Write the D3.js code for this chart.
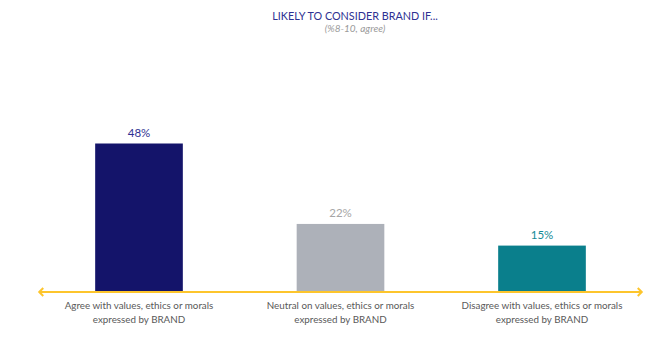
<!DOCTYPE html>
<html>
<head>
<meta charset="utf-8">
<script src="https://cdn.jsdelivr.net/npm/d3@7"></script>
<style>
  html, body { margin: 0; padding: 0; background: #ffffff; }
  svg { display: block; }
</style>
</head>
<body>
<svg id="chart" width="672" height="338"></svg>
<script>
// Chart data
const categories = [
  ["Agree with values, ethics or morals", "expressed by BRAND"],
  ["Neutral on values, ethics or morals", "expressed by BRAND"],
  ["Disagree with values, ethics or morals", "expressed by BRAND"]
];
const values = [48, 22, 15];
const barColors = ["#14146a", "#adb1b9", "#0a7f8c"];
const labelColors = ["#2e3192", "#a6a6a6", "#138a96"];
const titleText = "LIKELY TO CONSIDER BRAND IF...";
const subtitleText = "(%8-10, agree)";

const svg = d3.select("#chart");
const font = "Lato, 'Open Sans', sans-serif";

const baseY = 292;
const x = d3.scaleBand()
  .domain(d3.range(values.length))
  .range([38.25, 642.75])
  .paddingInner(0.565)
  .paddingOuter(0.2825);
const y = d3.scaleLinear().domain([0, 48]).range([baseY, 143.5]);

// Title and subtitle
svg.append("text")
  .attr("x", 355).attr("y", 19.5)
  .attr("text-anchor", "middle")
  .attr("font-family", font).attr("font-size", 10.8)
  .attr("fill", "#2e3192")
  .text(titleText);
svg.append("text")
  .attr("x", 355).attr("y", 31.5)
  .attr("text-anchor", "middle")
  .attr("font-family", font).attr("font-size", 10)
  .attr("font-style", "italic")
  .attr("fill", "#9a9a9a")
  .text(subtitleText);

// Bars
svg.selectAll("rect.bar").data(values).enter().append("rect")
  .attr("class", "bar")
  .attr("x", (d, i) => x(i))
  .attr("width", x.bandwidth())
  .attr("y", d => y(d))
  .attr("height", d => baseY - y(d))
  .attr("fill", (d, i) => barColors[i]);

// Value labels
svg.selectAll("text.val").data(values).enter().append("text")
  .attr("class", "val")
  .attr("x", (d, i) => x(i) + x.bandwidth() / 2)
  .attr("y", d => y(d) - 6.5)
  .attr("text-anchor", "middle")
  .attr("font-family", font).attr("font-size", 11.5)
  .attr("fill", (d, i) => labelColors[i])
  .text(d => d + "%");

// Double-arrowed baseline
const [x0, x1] = x.range();
const axisColor = "#fdc52c";
svg.append("line")
  .attr("x1", x0 + 1).attr("x2", x1 - 1)
  .attr("y1", baseY).attr("y2", baseY)
  .attr("stroke", axisColor).attr("stroke-width", 2);
svg.append("path")
  .attr("d", `M${x0 + 5},${baseY - 4} L${x0 + 1},${baseY} L${x0 + 5},${baseY + 4}`)
  .attr("fill", "none").attr("stroke", axisColor).attr("stroke-width", 2);
svg.append("path")
  .attr("d", `M${x1 - 5},${baseY - 4} L${x1 - 1},${baseY} L${x1 - 5},${baseY + 4}`)
  .attr("fill", "none").attr("stroke", axisColor).attr("stroke-width", 2);

// Category labels
const cat = svg.selectAll("text.cat").data(categories).enter().append("text")
  .attr("class", "cat")
  .attr("text-anchor", "middle")
  .attr("font-family", font).attr("font-size", 9.8)
  .attr("fill", "#595959");
cat.selectAll("tspan").data((d, i) => d.map(t => ({ t, i }))).enter().append("tspan")
  .attr("x", d => x(d.i) + x.bandwidth() / 2)
  .attr("y", (d, j) => 308.5 + j * 14)
  .text(d => d.t);
</script>
</body>
</html>
